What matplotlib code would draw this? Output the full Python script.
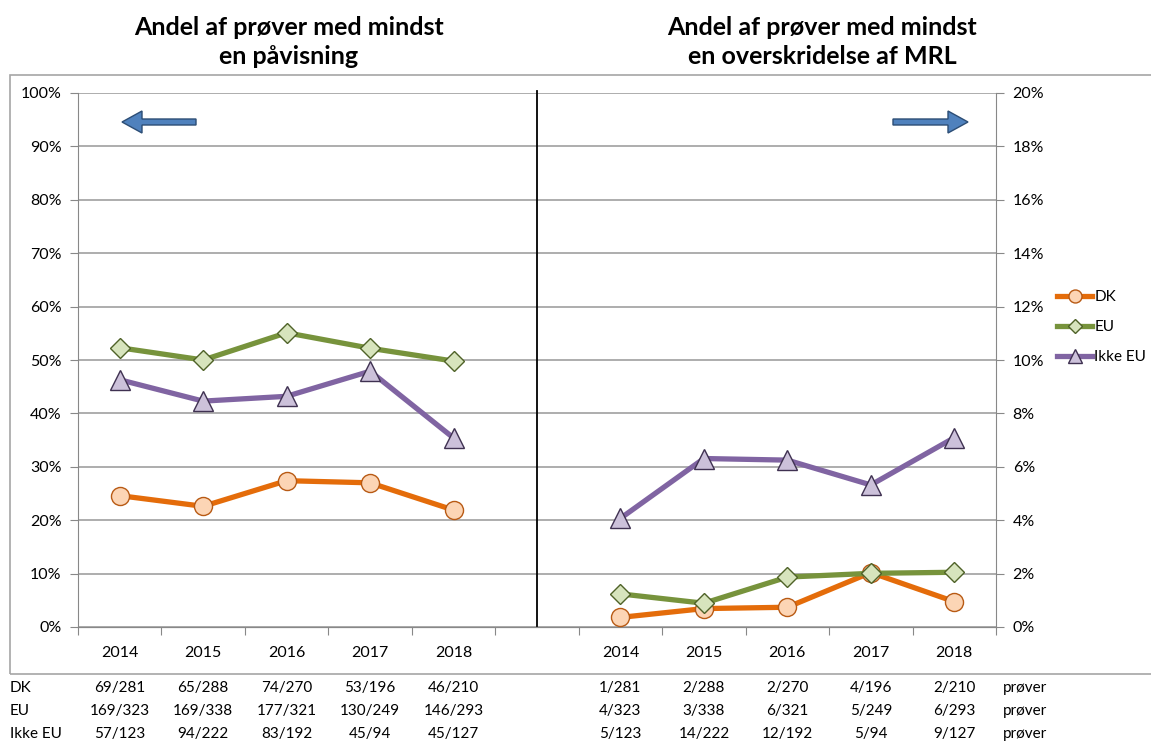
import matplotlib.pyplot as plt
from matplotlib.patches import FancyArrow, Rectangle
from matplotlib.lines import Line2D
import matplotlib.transforms as mtransforms

plt.rcParams['font.family'] = ['Lato', 'DejaVu Sans']

years = ["2014", "2015", "2016", "2017", "2018"]
series = ["DK", "EU", "Ikke EU"]

# andel med mindst en påvisning (venstre akse, %)
detect_dk = [24.6, 22.6, 27.4, 27.0, 21.9]
detect_eu = [52.3, 50.0, 55.1, 52.2, 49.8]
detect_ikke_eu = [46.3, 42.3, 43.2, 47.9, 35.4]

# andel med overskridelse af MRL (højre akse, %)
mrl_dk = [0.36, 0.69, 0.74, 2.04, 0.95]
mrl_eu = [1.24, 0.89, 1.87, 2.01, 2.05]
mrl_ikke_eu = [4.07, 6.31, 6.25, 5.32, 7.09]

counts_detect = {
    "DK": ["69/281", "65/288", "74/270", "53/196", "46/210"],
    "EU": ["169/323", "169/338", "177/321", "130/249", "146/293"],
    "Ikke EU": ["57/123", "94/222", "83/192", "45/94", "45/127"],
}
counts_mrl = {
    "DK": ["1/281", "2/288", "2/270", "4/196", "2/210"],
    "EU": ["4/323", "3/338", "6/321", "5/249", "6/293"],
    "Ikke EU": ["5/123", "14/222", "12/192", "5/94", "9/127"],
}

styles = {
    "DK": dict(color="#E46C0A", marker="o", mfc="#FCD5B5", mec="#B85A14", ms=13),
    "EU": dict(color="#77933C", marker="D", mfc="#D7E4BD", mec="#4F6228", ms=10),
    "Ikke EU": dict(color="#8064A2", marker="^", mfc="#CCC1DA", mec="#3F3151", ms=14),
}

W, H = 1151, 742
fig = plt.figure(figsize=(W / 100, H / 100), dpi=100)
fig.patches.append(Rectangle((10 / W, 1 - 674 / H), 1.2, (674 - 75) / H,
                             transform=fig.transFigure, fill=False,
                             edgecolor="#A6A6A6", lw=1.2))

ax = fig.add_axes([78 / W, 1 - 627 / H, (996 - 78) / W, (627 - 93) / H])
ax2 = ax.twinx()

left_x = list(range(0, 5))
right_x = list(range(6, 11))

for name, d in zip(series, [detect_dk, detect_eu, detect_ikke_eu]):
    s = styles[name]
    ax.plot(left_x, d, color=s["color"], lw=3.8, marker=s["marker"], ms=s["ms"],
            mfc=s["mfc"], mec=s["mec"], mew=1.0, zorder=3)
for name, d in zip(series, [mrl_dk, mrl_eu, mrl_ikke_eu]):
    s = styles[name]
    ax2.plot(right_x, d, color=s["color"], lw=3.8, marker=s["marker"], ms=s["ms"],
             mfc=s["mfc"], mec=s["mec"], mew=1.0, zorder=3)

ax.set_xlim(-0.5, 10.5)
ax.set_ylim(0, 100)
ax2.set_ylim(0, 20)
ax.set_yticks(range(0, 101, 10))
ax.set_yticklabels([f"{v}%" for v in range(0, 101, 10)], fontsize=11.5)
ax2.set_yticks(range(0, 21, 2))
ax2.set_yticklabels([f"{v}%" for v in range(0, 21, 2)], fontsize=11.5)
ax.yaxis.grid(True, color="#A0A0A0", lw=1.2)
ax.set_axisbelow(True)

ax.set_xticks([x - 0.5 for x in range(0, 12)])
ax.set_xticklabels([])
ax.set_xticks(left_x + right_x, minor=True)
ax.set_xticklabels(years + years, minor=True, fontsize=11.5)
ax.tick_params(axis="x", which="minor", length=0, pad=14)
ax.tick_params(axis="x", which="major", length=6, color="#888888")
ax.tick_params(axis="y", length=6, color="#888888", pad=6)
ax2.tick_params(axis="y", length=6, color="#888888", pad=6)

for a in (ax, ax2):
    a.spines["top"].set_visible(False)
    for side in ("left", "right", "bottom"):
        a.spines[side].set_color("#888888")
ax.spines["right"].set_visible(False)
ax2.spines["left"].set_visible(False)

ax.axvline(5, ymin=0, ymax=1.004, color="black", lw=1.3, clip_on=False)

# count table below
trans = mtransforms.blended_transform_factory(ax.transData, fig.transFigure)
row_y = [1 - 688 / H, 1 - 711 / H, 1 - 734 / H]
for name, y in zip(series, row_y):
    fig.text(10 / W, y, name, fontsize=11, va="center", ha="left")
    for x, t in zip(left_x, counts_detect[name]):
        ax.text(x, y, t, transform=trans, fontsize=11, ha="center", va="center")
    for x, t in zip(right_x, counts_mrl[name]):
        ax.text(x, y, t, transform=trans, fontsize=11, ha="center", va="center")
    fig.text(1003 / W, y, "prøver", fontsize=11, va="center", ha="left")

# titles
fig.text(289 / W, 1 - 42 / H, "Andel af prøver med mindst\nen påvisning", fontsize=18,
         fontweight="bold", ha="center", va="center", linespacing=1.35)
fig.text(822 / W, 1 - 42 / H, "Andel af prøver med mindst\nen overskridelse af MRL", fontsize=18,
         fontweight="bold", ha="center", va="center", linespacing=1.35)

# arrows
ay = 1 - 122 / H
fig.patches.append(FancyArrow(196 / W, ay, -74 / W, 0, width=6 / H, head_width=22 / H,
                              head_length=20 / W, length_includes_head=True,
                              transform=fig.transFigure, facecolor="#4F81BD",
                              edgecolor="#2C4D75", lw=1))
fig.patches.append(FancyArrow(893 / W, ay, 75 / W, 0, width=6 / H, head_width=22 / H,
                              head_length=20 / W, length_includes_head=True,
                              transform=fig.transFigure, facecolor="#4F81BD",
                              edgecolor="#2C4D75", lw=1))

handles = [Line2D([], [], color=styles[n]["color"], lw=3.8, marker=styles[n]["marker"],
                  ms=styles[n]["ms"] * 0.72, mfc=styles[n]["mfc"], mec=styles[n]["mec"])
           for n in series]
fig.legend(handles, series, loc="center left", bbox_to_anchor=(1057 / W, 1 - 327 / H),
           frameon=False, fontsize=11, handlelength=2.3, handletextpad=0.15,
           labelspacing=1.05, borderaxespad=0, borderpad=0)

fig.savefig("out.png", dpi=100)
